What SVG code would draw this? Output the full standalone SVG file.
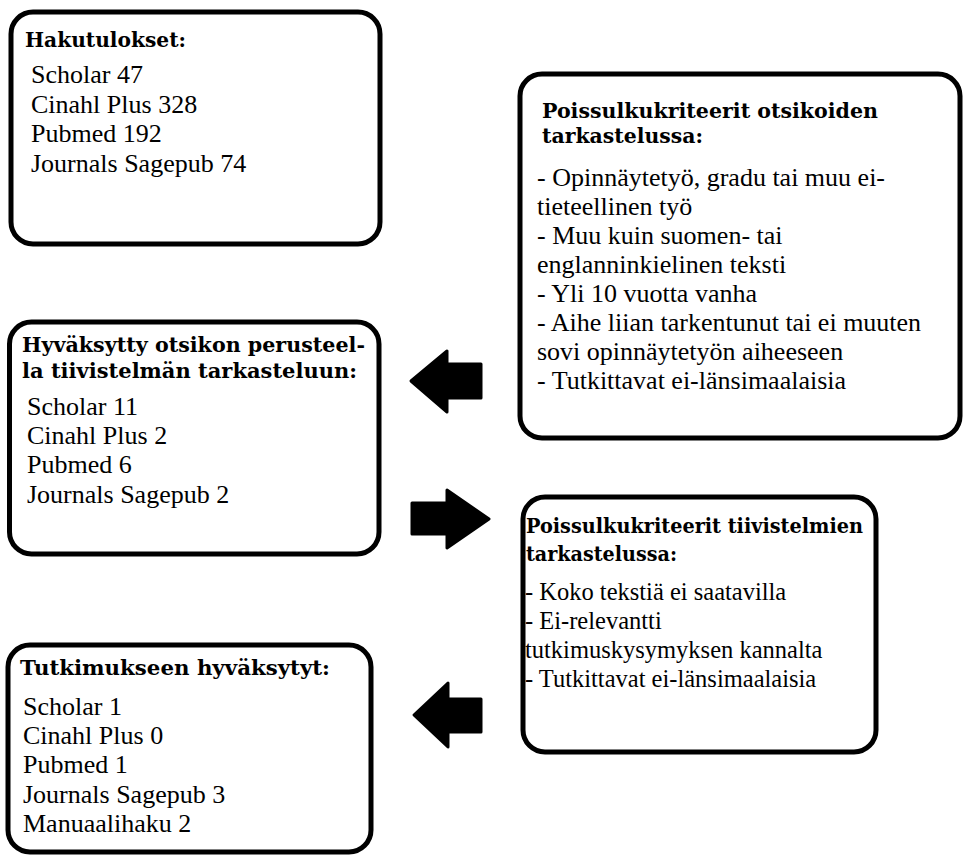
<svg xmlns="http://www.w3.org/2000/svg" width="963" height="855" viewBox="0 0 963 855">
<style>
.box{fill:#fff;stroke:#000;stroke-width:5}
.h{font-family:"DejaVu Serif","Liberation Serif",serif;font-weight:bold;font-size:21px;fill:#000}
.t{font-family:"Liberation Serif",Tinos,"Times New Roman","DejaVu Serif",serif;font-size:26px;fill:#000}
.t4{font-family:"Liberation Serif",Tinos,"Times New Roman","DejaVu Serif",serif;font-size:24.5px;fill:#000}
.arr{fill:#000;stroke:#000;stroke-width:3;stroke-linejoin:round}
</style>
<rect width="963" height="855" fill="#fff"/>
<g id="hakutulokset">
<rect class="box" x="11" y="12" width="369" height="232" rx="22"/>
<text class="h" x="25" y="47" textLength="161" lengthAdjust="spacingAndGlyphs">Hakutulokset:</text>
<text class="t" x="31" y="83">Scholar 47</text>
<text class="t" x="31" y="113">Cinahl Plus 328</text>
<text class="t" x="31" y="142">Pubmed 192</text>
<text class="t" x="31" y="172">Journals Sagepub 74</text>
</g>
<g id="poissulku-otsikot">
<rect class="box" x="520" y="74" width="440" height="364" rx="22"/>
<text class="h" x="542" y="118" textLength="336" lengthAdjust="spacingAndGlyphs">Poissulkukriteerit otsikoiden</text>
<text class="h" x="542" y="143" textLength="161" lengthAdjust="spacingAndGlyphs">tarkastelussa:</text>
<text class="t" x="537" y="186">- Opinnäytetyö, gradu tai muu ei-</text>
<text class="t" x="537" y="215">tieteellinen työ</text>
<text class="t" x="537" y="244">- Muu kuin suomen- tai</text>
<text class="t" x="537" y="273">englanninkielinen teksti</text>
<text class="t" x="537" y="302">- Yli 10 vuotta vanha</text>
<text class="t" x="537" y="331">- Aihe liian tarkentunut tai ei muuten</text>
<text class="t" x="537" y="360">sovi opinnäytetyön aiheeseen</text>
<text class="t" x="537" y="389">- Tutkittavat ei-länsimaalaisia</text>
</g>
<g id="hyvaksytty-otsikko">
<rect class="box" x="9.5" y="322" width="369.5" height="232" rx="22"/>
<text class="h" x="22" y="352" textLength="343" lengthAdjust="spacingAndGlyphs">Hyväksytty otsikon perusteel-</text>
<text class="h" x="22" y="378" textLength="335" lengthAdjust="spacingAndGlyphs">la tiivistelmän tarkasteluun:</text>
<text class="t" x="27" y="415">Scholar 11</text>
<text class="t" x="27" y="444">Cinahl Plus 2</text>
<text class="t" x="27" y="473">Pubmed 6</text>
<text class="t" x="27" y="503">Journals Sagepub 2</text>
</g>
<g id="poissulku-tiivistelmat">
<rect class="box" x="523" y="497" width="353" height="255" rx="22"/>
<text class="h" x="526" y="533" textLength="337" lengthAdjust="spacingAndGlyphs">Poissulkukriteerit tiivistelmien</text>
<text class="h" x="526" y="561" textLength="151" lengthAdjust="spacingAndGlyphs">tarkastelussa:</text>
<text class="t4" x="525" y="600">- Koko tekstiä ei saatavilla</text>
<text class="t4" x="525" y="629">- Ei-relevantti</text>
<text class="t4" x="525" y="658">tutkimuskysymyksen kannalta</text>
<text class="t4" x="525" y="687">- Tutkittavat ei-länsimaalaisia</text>
</g>
<g id="tutkimukseen-hyvaksytyt">
<rect class="box" x="8" y="645" width="363" height="207" rx="22"/>
<text class="h" x="20" y="675" textLength="310" lengthAdjust="spacingAndGlyphs">Tutkimukseen hyväksytyt:</text>
<text class="t" x="23" y="715">Scholar 1</text>
<text class="t" x="23" y="744">Cinahl Plus 0</text>
<text class="t" x="23" y="773">Pubmed 1</text>
<text class="t" x="23" y="803">Journals Sagepub 3</text>
<text class="t" x="23" y="832">Manuaalihaku 2</text>
</g>
<g id="connectors">
<polygon class="arr" points="411,381 447,351 447,364 481,364 481,398 447,398 447,412"/>
<polygon class="arr" points="412,503 447,503 447,490 489,519 447,548 447,534 412,534"/>
<polygon class="arr" points="414,715 448,683 448,699 481,699 481,732 448,732 448,747"/>
</g>
</svg>
